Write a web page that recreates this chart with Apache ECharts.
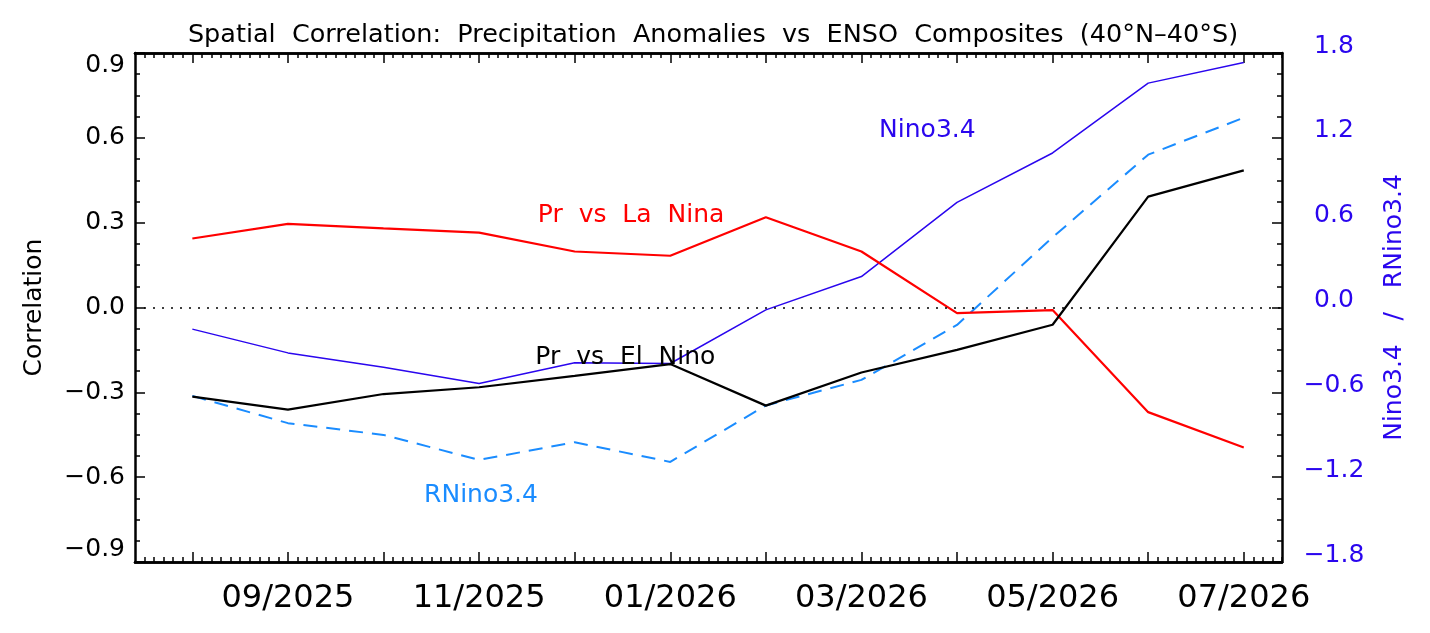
<!DOCTYPE html>
<html>
<head>
<meta charset="utf-8">
<script src="https://cdn.jsdelivr.net/npm/echarts@6/dist/echarts.min.js"></script>
<style>
  html, body { margin: 0; padding: 0; background: #fff; }
  #chart { width: 1430px; height: 633px; }
</style>
</head>
<body>
<div id="chart"></div>
<script>
// ---- Data ----
var months = ['08/2025','09/2025','10/2025','11/2025','12/2025','01/2026',
              '02/2026','03/2026','04/2026','05/2026','06/2026','07/2026'];
var labelMonths = [1, 3, 5, 7, 9, 11];            // months that carry a tick label
var laNina  = [0.244, 0.296, 0.280, 0.265, 0.198, 0.183, 0.319, 0.198, -0.020, -0.009, -0.370, -0.495];
var elNino  = [-0.315, -0.361, -0.306, -0.282, -0.242, -0.200, -0.347, -0.230, -0.150, -0.061, 0.392, 0.485];
var nino34  = [-0.153, -0.321, -0.422, -0.538, -0.391, -0.396, -0.017, 0.219, 0.743, 1.093, 1.587, 1.733];
var rnino34 = [-0.625, -0.818, -0.901, -1.078, -0.953, -1.092, -0.693, -0.512, -0.123, 0.496, 1.081, 1.342];

var FONT = 'DejaVu Sans';
var BLUE = '#2a06ee';
var DBLUE = '#1a8cff';

function pairs(arr) { return arr.map(function (v, i) { return [i, v]; }); }
var majorTicks = months.map(function (m, i) { return i; });
var minorTicks = [];
for (var k = -5; k <= 114; k++) { if (k % 10 !== 0) minorTicks.push(k / 10); }
function fmtNum(v) { var s = Math.abs(v).toFixed(1); return (v < -1e-9 ? '\u2212' : '') + s; }

var XMIN = -0.6, XMAX = 11.4;
function xAxisCfg(pos, ticks, len, labels) {
  return {
    type: 'value', position: pos, min: XMIN, max: XMAX,
    axisLine: { show: true, onZero: false, lineStyle: { color: '#000', width: 2.5 } },
    axisTick: { show: true, inside: true, length: len, customValues: ticks, lineStyle: { color: '#000', width: 1.5 } },
    axisLabel: labels ? {
      show: true, customValues: labelMonths, margin: 21,
      fontFamily: FONT, fontSize: 32, color: '#000',
      formatter: function (v) { return months[Math.round(v)]; }
    } : { show: false },
    splitLine: { show: false }
  };
}

function annot(text, color, coord) {
  return {
    symbol: 'circle', symbolSize: 1, itemStyle: { color: 'rgba(0,0,0,0)' },
    label: { show: true, position: 'inside', fontFamily: FONT, fontSize: 25, color: color, formatter: text },
    data: [{ coord: coord }]
  };
}

var chart = echarts.init(document.getElementById('chart'), null, { renderer: 'canvas' });
chart.setOption({
  animation: false,
  backgroundColor: '#fff',
  title: {
    text: 'Spatial  Correlation:  Precipitation  Anomalies  vs  ENSO  Composites  (40\u00b0N\u201340\u00b0S)',
    left: 708, top: 17, textAlign: 'center',
    textStyle: { fontFamily: FONT, fontSize: 25.5, fontWeight: 'normal', color: '#000' }
  },
  grid: { left: 135, right: 148, top: 53, bottom: 71, containLabel: false },
  xAxis: [
    xAxisCfg('bottom', majorTicks, 10, true),
    xAxisCfg('bottom', minorTicks, 5, false),
    xAxisCfg('top', majorTicks, 10, false),
    xAxisCfg('top', minorTicks, 5, false)
  ],
  yAxis: [
    {
      type: 'value', position: 'left', min: -0.9, max: 0.9, interval: 0.3,
      name: 'Correlation', nameLocation: 'middle', nameGap: 88, nameRotate: 90,
      nameTextStyle: { fontFamily: FONT, fontSize: 25, color: '#000' },
      axisLine: { show: true, onZero: false, lineStyle: { color: '#000', width: 2.5 } },
      axisTick: { show: true, inside: true, length: 10, lineStyle: { color: '#000', width: 1.5 } },
      minorTick: { show: true, splitNumber: 4, length: 5, lineStyle: { color: '#000', width: 1.5 } },
      axisLabel: {
        fontFamily: FONT, fontSize: 25, color: '#000', margin: 10,
        verticalAlignMaxLabel: 'top', verticalAlignMinLabel: 'bottom',
        formatter: fmtNum
      },
      splitLine: { show: false }
    },
    {
      type: 'value', position: 'right', min: -1.8, max: 1.8, interval: 0.6,
      name: 'Nino3.4   /   RNino3.4', nameLocation: 'middle', nameGap: 100, nameRotate: 90,
      nameTextStyle: { fontFamily: FONT, fontSize: 25, color: BLUE },
      axisLine: { show: true, onZero: false, lineStyle: { color: '#000', width: 2.5 } },
      axisTick: { show: true, inside: true, length: 10, lineStyle: { color: '#000', width: 1.5 } },
      minorTick: { show: true, splitNumber: 4, length: 5, lineStyle: { color: '#000', width: 1.5 } },
      axisLabel: {
        fontFamily: FONT, fontSize: 25, color: BLUE, margin: 52, align: 'center',
        verticalAlign: 'bottom', lineHeight: 14,
        formatter: fmtNum
      },
      splitLine: { show: false }
    }
  ],
  series: [
    {
      name: 'Pr vs La Nina', type: 'line', xAxisIndex: 0, yAxisIndex: 0,
      data: pairs(laNina), showSymbol: false, symbol: 'none',
      lineStyle: { color: '#ff0000', width: 2.2 }, z: 3,
      markLine: {
        silent: true, symbol: 'none', label: { show: false },
        lineStyle: { color: '#000', width: 1.6, type: [2, 7] },
        data: [{ yAxis: 0 }]
      },
      markPoint: annot('Pr  vs  La  Nina', '#ff0000', [4.59, 0.326])
    },
    {
      name: 'Pr vs El Nino', type: 'line', xAxisIndex: 0, yAxisIndex: 0,
      data: pairs(elNino), showSymbol: false, symbol: 'none',
      lineStyle: { color: '#000', width: 2.2 }, z: 3,
      markPoint: annot('Pr  vs  El  Nino', '#000', [4.53, -0.176])
    },
    {
      name: 'Nino3.4', type: 'line', xAxisIndex: 0, yAxisIndex: 1,
      data: pairs(nino34), showSymbol: false, symbol: 'none',
      lineStyle: { color: BLUE, width: 1.5 }, z: 2,
      markPoint: annot('Nino3.4', BLUE, [7.69, 1.25])
    },
    {
      name: 'RNino3.4', type: 'line', xAxisIndex: 0, yAxisIndex: 1,
      data: pairs(rnino34), showSymbol: false, symbol: 'none',
      lineStyle: { color: DBLUE, width: 2, type: [14, 9] }, z: 2,
      markPoint: annot('RNino3.4', DBLUE, [3.02, -1.33])
    }
  ]
});
</script>
</body>
</html>
